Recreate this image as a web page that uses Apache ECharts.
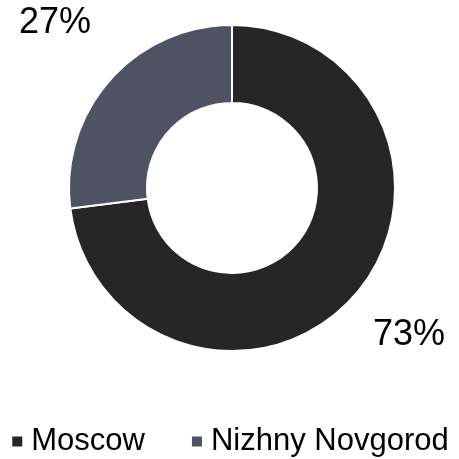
<!DOCTYPE html>
<html>
<head>
<meta charset="utf-8">
<script src="https://cdn.jsdelivr.net/npm/echarts@6/dist/echarts.min.js"></script>
<style>
  html, body { margin: 0; padding: 0; background: #fff; }
  #chart { width: 459px; height: 459px; }
</style>
</head>
<body>
<div id="chart"></div>
<script>
    var cities = ['Moscow', 'Nizhny Novgorod'];
    var shares = [73, 27];
    var colors = ['#262626', '#4f5262'];

    var cx = 232, cy = 188;
    var labelRadius = 236;   // labels sit out on the slice's middle ray
    var labelLift = 9;

    var total = 0;
    for (var k = 0; k < shares.length; k++) total += shares[k];

    var data = [];
    for (var i = 0; i < cities.length; i++) {
        data.push({ name: cities[i], value: shares[i], itemStyle: { color: colors[i] } });
    }

    // put each label on the middle angle of its slice (clockwise from 12 o'clock)
    function placeLabel(p) {
        var before = 0;
        for (var j = 0; j < p.dataIndex; j++) before += shares[j];
        var mid = (before + shares[p.dataIndex] / 2) / total * Math.PI * 2;
        return {
            x: cx + labelRadius * Math.sin(mid),
            y: cy - labelRadius * Math.cos(mid) - labelLift,
            align: 'center',
            verticalAlign: 'middle'
        };
    }

    var option = {
        animation: false,
        textStyle: { fontFamily: 'Liberation Sans, Arial, sans-serif' },
        legend: {
            left: 'center',
            bottom: -3,
            icon: 'rect',
            itemWidth: 12,
            itemHeight: 12,
            itemGap: 45,
            textStyle: { fontSize: 31, color: '#000', padding: [0, 0, 0, 3] },
            data: cities
        },
        series: [
            {
                type: 'pie',
                center: [cx, cy],
                radius: [85, 163],
                startAngle: 90,
                clockwise: true,
                avoidLabelOverlap: false,
                itemStyle: { borderColor: '#fff', borderWidth: 2 },
                label: {
                    show: true,
                    position: 'outside',
                    formatter: '{d}%',
                    fontSize: 36,
                    color: '#000'
                },
                labelLine: { show: false },
                labelLayout: placeLabel,
                data: data
            }
        ]
    };

    var myChart = echarts.init(document.getElementById('chart'));
    myChart.setOption(option);
</script>
</body>
</html>
